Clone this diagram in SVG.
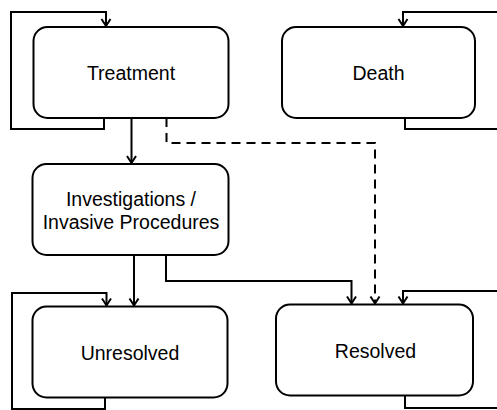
<svg xmlns="http://www.w3.org/2000/svg" width="497" height="410" viewBox="0 0 497 410">
<style>
.box{fill:#fff;stroke:#000;stroke-width:2}
.lbl{font-family:"Liberation Sans",Arial,sans-serif;font-size:19.5px;fill:#000;text-anchor:middle}
.c{fill:none;stroke:#000;stroke-width:2;marker-end:url(#ah)}
.d{stroke-dasharray:9,6}
</style>
<defs>
<marker id="ah" markerUnits="userSpaceOnUse" orient="auto" markerWidth="12" markerHeight="12" refX="10" refY="6" viewBox="0 0 12 12" overflow="visible">
<path d="M3,1.5 L10,6 L3,10.5" fill="none" stroke="#000" stroke-width="2"/>
</marker>
</defs>
<rect width="497" height="410" fill="#fff"/>
<g id="connectors">
<path class="c" d="M104,118 V129 H11 V12 H106 V26"/>
<path class="c" d="M405,118 V129 H510 V12 H403 V26"/>
<path class="c" d="M131.5,118 V163"/>
<path class="c d" d="M166.5,118 V143 H375 V303.5"/>
<path class="c" d="M134,255 V305.5"/>
<path class="c" d="M166,255 V281 H351.5 V303.5"/>
<path class="c" d="M105,397.5 V409 H12 V293 H106.5 V305.5"/>
<path class="c" d="M405,395.5 V408 H510 V291 H403 V303.5"/>
</g>
<g id="treatment">
<rect class="box" x="33.5" y="27" width="195" height="91" rx="14"/>
<text class="lbl" x="131" y="80">Treatment</text>
</g>
<g id="death">
<rect class="box" x="282" y="27" width="193" height="91" rx="14"/>
<text class="lbl" x="378.5" y="80">Death</text>
</g>
<g id="investigations">
<rect class="box" x="32.5" y="164" width="196" height="91" rx="14"/>
<text class="lbl" x="131" y="205.5">Investigations /</text>
<text class="lbl" x="131" y="228.5">Invasive Procedures</text>
</g>
<g id="unresolved">
<rect class="box" x="32.5" y="306.5" width="195" height="91" rx="14"/>
<text class="lbl" x="130" y="360">Unresolved</text>
</g>
<g id="resolved">
<rect class="box" x="276" y="304.5" width="197" height="91" rx="14"/>
<text class="lbl" x="375.5" y="358">Resolved</text>
</g>
</svg>
